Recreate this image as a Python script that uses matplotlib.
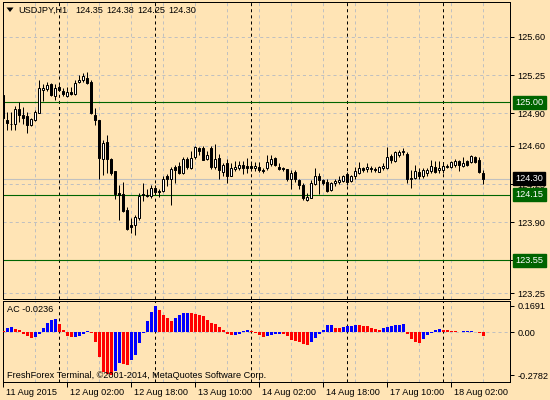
import numpy as np
import matplotlib
matplotlib.use("Agg")
import matplotlib.pyplot as plt
from matplotlib.patches import Polygon
from matplotlib.transforms import IdentityTransform, ScaledTranslation

plt.rcParams['font.family'] = ['Liberation Sans', 'DejaVu Sans']
plt.rcParams['lines.scale_dashes'] = False

# ---- data (USDJPY H1, 11 Aug 2015 10:00 -> 18 Aug 2015 10:00) ----
symbol = "USDJPY,H1"
last_ohlc = ["124.35", "124.38", "124.25", "124.30"]
first_hour = 10

opens = [125.07, 124.84, 124.805, 124.80, 124.94, 124.88, 124.87, 124.79, 124.84, 124.90,
         125.11, 125.12, 125.165, 125.06, 125.14, 125.10, 125.06, 125.09, 125.08, 125.19,
         125.20, 125.225, 125.19, 124.88, 124.84, 124.48, 124.64, 124.48, 124.37, 124.17,
         124.16, 124.01, 123.87, 123.87, 123.94, 124.16, 124.15, 124.14, 124.21, 124.19,
         124.19, 124.32, 124.30, 124.41, 124.415, 124.355, 124.48, 124.40, 124.50, 124.58,
         124.58, 124.48, 124.58, 124.41, 124.49, 124.36, 124.44, 124.325, 124.39, 124.395,
         124.425, 124.42, 124.42, 124.395, 124.41, 124.38, 124.395, 124.43, 124.49, 124.41,
         124.40, 124.385, 124.30, 124.365, 124.29, 124.24, 124.105, 124.12, 124.25, 124.325,
         124.29, 124.265, 124.195, 124.26, 124.27, 124.28, 124.34, 124.28, 124.325, 124.355,
         124.395, 124.39, 124.40, 124.39, 124.365, 124.40, 124.395, 124.51, 124.465, 124.52,
         124.54, 124.53, 124.30, 124.31, 124.365, 124.325, 124.355, 124.37, 124.41, 124.38,
         124.375, 124.41, 124.41, 124.425, 124.46, 124.415, 124.465, 124.455, 124.50, 124.47,
         124.35]
highs = [125.08, 124.91, 124.91, 124.97, 125.00, 124.96, 124.91, 124.86, 124.93, 125.20,
         125.17, 125.19, 125.18, 125.17, 125.16, 125.13, 125.14, 125.14, 125.20, 125.25,
         125.27, 125.28, 125.20, 124.95, 124.84, 124.65, 124.70, 124.49, 124.37, 124.24,
         124.27, 124.04, 123.94, 123.97, 124.17, 124.26, 124.20, 124.24, 124.24, 124.20,
         124.32, 124.34, 124.41, 124.425, 124.45, 124.50, 124.50, 124.55, 124.60, 124.59,
         124.60, 124.55, 124.60, 124.62, 124.53, 124.44, 124.48, 124.44, 124.46, 124.46,
         124.46, 124.49, 124.46, 124.45, 124.45, 124.395, 124.52, 124.52, 124.50, 124.44,
         124.41, 124.39, 124.38, 124.38, 124.30, 124.255, 124.165, 124.285, 124.395, 124.35,
         124.30, 124.295, 124.27, 124.295, 124.32, 124.335, 124.365, 124.335, 124.41, 124.455,
         124.41, 124.44, 124.42, 124.41, 124.42, 124.44, 124.59, 124.53, 124.55, 124.56,
         124.585, 124.54, 124.38, 124.425, 124.40, 124.40, 124.40, 124.47, 124.465, 124.465,
         124.44, 124.43, 124.46, 124.48, 124.47, 124.495, 124.47, 124.52, 124.51, 124.50,
         124.38]
lows = [124.72, 124.75, 124.75, 124.75, 124.82, 124.80, 124.72, 124.78, 124.83, 124.90,
        125.01, 125.10, 125.06, 125.02, 125.10, 125.06, 125.05, 125.07, 125.07, 125.18,
        125.19, 125.17, 124.89, 124.79, 124.30, 124.33, 124.35, 124.33, 124.11, 123.92,
        123.995, 123.83, 123.80, 123.78, 123.92, 124.09, 124.13, 124.12, 124.16, 124.13,
        124.18, 124.23, 124.06, 124.26, 124.34, 124.34, 124.39, 124.385, 124.48, 124.52,
        124.47, 124.47, 124.39, 124.39, 124.30, 124.32, 124.26, 124.32, 124.37, 124.38,
        124.34, 124.35, 124.37, 124.37, 124.36, 124.35, 124.38, 124.42, 124.42, 124.38,
        124.37, 124.28, 124.20, 124.27, 124.20, 124.10, 124.09, 124.12, 124.24, 124.155,
        124.24, 124.18, 124.19, 124.23, 124.25, 124.27, 124.24, 124.27, 124.30, 124.34,
        124.36, 124.36, 124.36, 124.36, 124.36, 124.38, 124.385, 124.44, 124.45, 124.50,
        124.52, 124.26, 124.21, 124.30, 124.30, 124.31, 124.32, 124.355, 124.355, 124.35,
        124.355, 124.40, 124.40, 124.41, 124.37, 124.41, 124.415, 124.445, 124.445, 124.35,
        124.25]
closes = [124.86, 124.81, 124.80, 124.94, 124.88, 124.86, 124.79, 124.85, 124.91, 125.13,
          125.13, 125.16, 125.07, 125.13, 125.11, 125.08, 125.09, 125.08, 125.18, 125.20,
          125.24, 125.18, 124.90, 124.84, 124.49, 124.63, 124.48, 124.35, 124.16, 124.15,
          124.00, 123.84, 123.86, 123.95, 124.14, 124.15, 124.14, 124.21, 124.18, 124.18,
          124.30, 124.30, 124.385, 124.38, 124.355, 124.48, 124.41, 124.49, 124.59, 124.55,
          124.47, 124.52, 124.41, 124.48, 124.38, 124.425, 124.32, 124.395, 124.41, 124.425,
          124.395, 124.40, 124.40, 124.415, 124.38, 124.37, 124.455, 124.48, 124.425, 124.385,
          124.385, 124.30, 124.355, 124.30, 124.24, 124.12, 124.135, 124.255, 124.325, 124.29,
          124.26, 124.19, 124.255, 124.28, 124.29, 124.325, 124.27, 124.325, 124.37, 124.395,
          124.38, 124.41, 124.39, 124.38, 124.41, 124.42, 124.50, 124.47, 124.54, 124.545,
          124.555, 124.30, 124.305, 124.37, 124.325, 124.375, 124.38, 124.42, 124.365, 124.395,
          124.415, 124.42, 124.45, 124.465, 124.425, 124.44, 124.425, 124.51, 124.455, 124.365,
          124.30]

# Accelerator Oscillator
ac = [0.006, 0.024, 0.030, 0.020, 0.010, -0.016, -0.024, -0.036, -0.034, -0.014,
      0.026, 0.056, 0.076, 0.082, 0.054, 0.016, -0.028, -0.034, -0.030, -0.024,
      -0.014, 0.006, -0.004, -0.064, -0.160, -0.255, -0.270, -0.2782, -0.250, -0.200,
      -0.205, -0.210, -0.180, -0.150, -0.074, -0.006, 0.074, 0.130, 0.1691, 0.140,
      0.110, 0.090, 0.070, 0.090, 0.110, 0.120, 0.122, 0.120, 0.118, 0.110,
      0.100, 0.080, 0.060, 0.050, 0.030, 0.010, -0.014, -0.022, -0.020, -0.012,
      0.006, 0.010, 0.006, -0.006, -0.020, -0.030, -0.028, -0.022, -0.016, -0.012,
      -0.014, -0.026, -0.050, -0.056, -0.062, -0.076, -0.086, -0.066, -0.036, -0.010,
      0.014, 0.044, 0.048, 0.028, 0.026, 0.032, 0.036, 0.040, 0.046, 0.044,
      0.040, 0.036, 0.028, 0.020, 0.016, 0.024, 0.030, 0.036, 0.042, 0.048,
      0.054, -0.016, -0.046, -0.062, -0.070, -0.046, -0.020, -0.006, 0.010, 0.018,
      0.014, 0.010, 0.006, 0.004, 0.001, 0.004, 0.005, 0.008, 0.002, -0.004,
      -0.0236]
ac_max, ac_min = 0.1691, -0.2782

grid_prices = [125.60, 125.25, 124.90, 124.60, 124.25, 123.90, 123.55, 123.25]
levels = [125.00, 124.15, 123.55]
bid = 124.30
time_labels = ["11 Aug 2015", "12 Aug 02:00", "12 Aug 18:00", "13 Aug 10:00",
               "14 Aug 02:00", "14 Aug 18:00", "17 Aug 10:00", "18 Aug 02:00"]
copyright_text = "FreshForex Terminal, \u00a92001-2014, MetaQuotes Software Corp."

# ---- style ----
BG = '#FFE4B5'
GRID = '#C0C0C0'
LEVEL = '#006400'
PX = 0.72            # 1 pixel in points at 100 dpi
DASH = (0, (2.2, 2.2))
FS = 6.6

fig = plt.figure(figsize=(5.5, 4), dpi=100, facecolor=BG)


def rect(l, t, r, b):
    return [l / 550, 1 - b / 400, (r - l) / 550, (b - t) / 400]


ax = fig.add_axes(rect(2.5, 2, 510.5, 298.5), facecolor=BG)
ax2 = fig.add_axes(rect(2.5, 300.5, 510.5, 381.5), facecolor=BG)

n = len(opens)
x = np.arange(n)
o, h, l, c = (np.array(v) for v in (opens, highs, lows, closes))
hours = (first_hour + x) % 24
day_starts = x[hours == 0]

for a in (ax, ax2):
    a.set_xlim(-0.2, 126.8)
    for s in a.spines.values():
        s.set_linewidth(PX)
        s.set_color('black')
    for i in range(8, n, 8):
        a.axvline(i, color=GRID, lw=PX, ls=DASH, zorder=1)
    for i in day_starts:
        a.axvline(i, color='black', lw=PX, ls=DASH, zorder=2)

# ---- main price window ----
ax.set_ylim(123.20, 125.92)
for p in grid_prices:
    ax.axhline(p, color=GRID, lw=PX, ls=DASH, zorder=1)
for p in levels:
    ax.axhline(p, color=LEVEL, lw=PX * 1.1, zorder=2)
ax.axhline(bid, color=GRID, lw=PX * 1.1, zorder=2)

ax.vlines(x, l, h, color='black', lw=PX, zorder=3)
up = c >= o
body = np.maximum(np.abs(c - o), 0.002)
ax.bar(x, body, bottom=np.minimum(o, c), width=0.5,
       color=np.where(up, 'white', 'black'), edgecolor='black', lw=PX, zorder=4)

ax.set_xticks([])
# the 123.55 scale label is hidden behind the level label in the terminal
ax.set_yticks(grid_prices, ['' if p in levels else f'{p:.2f}' for p in grid_prices])
ax.tick_params(axis='y', direction='out', length=3, width=PX, pad=2, labelsize=FS,
               left=False, labelleft=False, right=True, labelright=True)

tr = ax.get_yaxis_transform()
for p, col in [(levels[0], LEVEL), (bid, 'black'), (levels[1], LEVEL), (levels[2], LEVEL)]:
    ax.annotate(f'{p:.2f}', xy=(1, p), xycoords=tr, xytext=(3.6, 0),
                textcoords='offset points', ha='left', va='center', fontsize=FS,
                color='white', zorder=6, annotation_clip=False,
                bbox=dict(boxstyle='square,pad=0.22', fc=col, ec=col))

# ---- AC window ----
ax2.set_ylim(-0.319, 0.203)
ax2.axhline(0, color=GRID, lw=PX, ls=DASH, zorder=1)
acv = np.array(ac)
rising = np.diff(acv, prepend=acv[0]) > 0
ax2.bar(x, acv, width=0.78, color=np.where(rising, '#0000FF', '#FF0000'), lw=0, zorder=3)
ax2.set_yticks([ac_max, 0, ac_min], [f'{ac_max:.4f}', '0.00', f'{ac_min:.4f}'])
ax2.tick_params(axis='y', direction='out', length=3, width=PX, pad=2, labelsize=FS,
                left=False, labelleft=False, right=True, labelright=True)
ax2.set_xticks(np.arange(len(time_labels)) * 16, time_labels)
ax2.tick_params(axis='x', direction='out', length=3.5, width=PX, pad=1.5, labelsize=FS)
shift = ScaledTranslation(0.03, 0, fig.dpi_scale_trans)
for lbl in ax2.get_xticklabels():
    lbl.set_ha('left')
    lbl.set_transform(lbl.get_transform() + shift)

# ---- texts ----
fig.text(7 / 550, 1 - 310 / 400, f'AC {ac[-1]:.4f}', fontsize=FS, va='center')
fig.text(6.7 / 550, 1 - 375 / 400, copyright_text, fontsize=FS, va='center')
fig.add_artist(Polygon([[6.5, 392.5], [13.5, 392.5], [10, 388]], closed=True,
                       fc='black', ec='black', lw=0, transform=IdentityTransform()))
fig.text(18 / 550, 1 - 10.5 / 400, symbol, fontsize=FS, va='center')
for k, v in enumerate(last_ohlc):
    fig.text((75 + 31 * k) / 550, 1 - 10.5 / 400, v, fontsize=FS, va='center')

fig.savefig('out.png', dpi=100, facecolor=BG)
